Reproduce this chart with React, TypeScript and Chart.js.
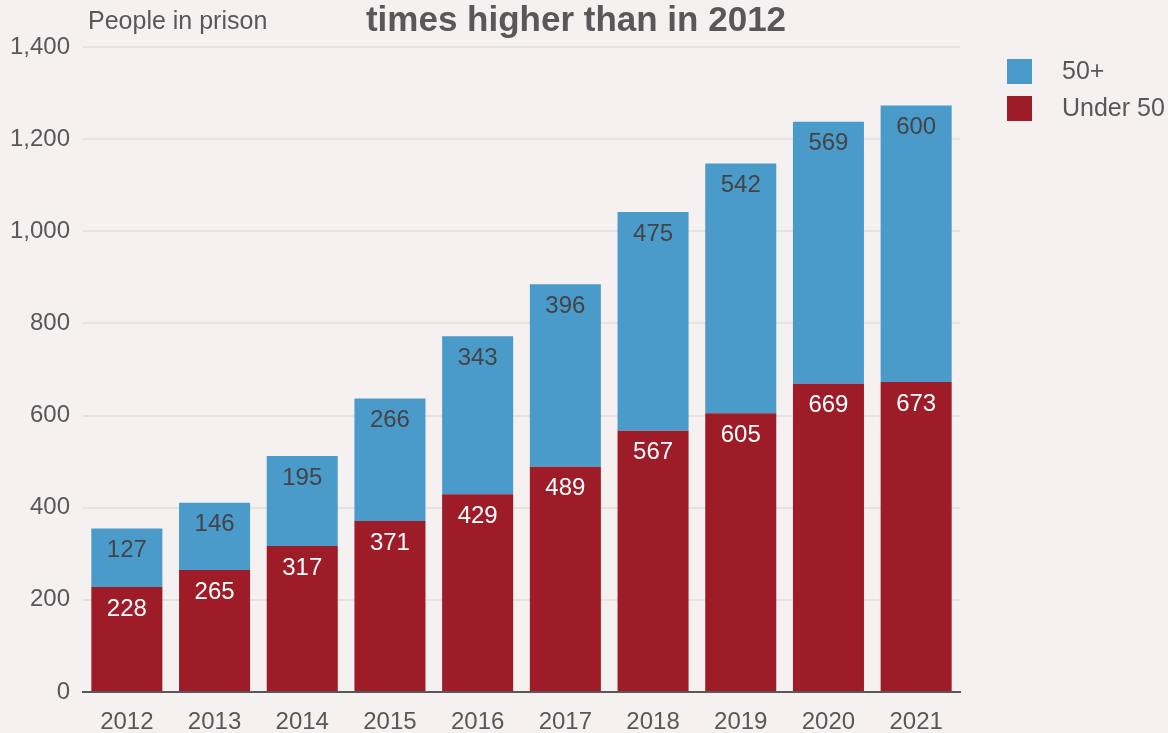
import React, { useEffect, useRef } from "react";
import { Chart, registerables } from "chart.js";

Chart.register(...registerables);

const years = ["2012", "2013", "2014", "2015", "2016", "2017", "2018", "2019", "2020", "2021"];
const under50 = [228, 265, 317, 371, 429, 489, 567, 605, 669, 673];
const over50 = [127, 146, 195, 266, 343, 396, 475, 542, 569, 600];
const yTicks = [0, 200, 400, 600, 800, 1000, 1200, 1400];

const BG = "#f5f1f0";
const BLUE = "#4a9bca";
const RED = "#9e1b28";
const GREY = "#58585b";
const FONT = "'Liberation Sans', Arial, Helvetica, sans-serif";

export default function App() {
  const ref = useRef<HTMLCanvasElement | null>(null);

  useEffect(() => {
    document.body.style.margin = "0";
    document.body.style.background = BG;
    const canvas = ref.current;
    if (!canvas) return;

    const bgPlugin = {
      id: "bg",
      beforeDraw(chart: any) {
        const c = chart.ctx;
        c.save();
        c.fillStyle = BG;
        c.fillRect(0, 0, chart.width, chart.height);
        c.restore();
      },
    };

    const extras = {
      id: "extras",
      afterDatasetsDraw(chart: any) {
        const c = chart.ctx;
        c.save();
        c.textAlign = "center";
        c.textBaseline = "middle";
        c.font = `24px ${FONT}`;
        chart.data.datasets.forEach((ds: any, di: number) => {
          const meta = chart.getDatasetMeta(di);
          meta.data.forEach((bar: any, i: number) => {
            c.fillStyle = di === 0 ? "#ffffff" : "#444446";
            c.fillText(String(ds.data[i]), bar.x, bar.y + 22);
          });
        });
        // title
        c.fillStyle = GREY;
        c.font = `bold 35px ${FONT}`;
        c.textAlign = "center";
        c.textBaseline = "alphabetic";
        c.fillText("times higher than in 2012", 576, 31);
        // axis title
        c.font = `25px ${FONT}`;
        c.textAlign = "left";
        c.fillText("People in prison", 88, 29);
        // legend
        const items = [
          { label: "50+", color: BLUE, y: 59 },
          { label: "Under 50", color: RED, y: 96 },
        ];
        items.forEach((it) => {
          c.fillStyle = it.color;
          c.fillRect(1007, it.y, 25, 25);
          c.fillStyle = GREY;
          c.font = `25px ${FONT}`;
          c.textBaseline = "middle";
          c.fillText(it.label, 1062, it.y + 13);
        });
        c.restore();
      },
    };

    const chart = new Chart(canvas, {
      type: "bar",
      data: {
        labels: years,
        datasets: [
          { label: "Under 50", data: under50, backgroundColor: RED, barPercentage: 0.81, categoryPercentage: 1 },
          { label: "50+", data: over50, backgroundColor: BLUE, barPercentage: 0.81, categoryPercentage: 1 },
        ],
      },
      options: {
        animation: false,
        responsive: false,
        maintainAspectRatio: false,
        layout: { padding: { top: 47, right: 208, left: 0, bottom: 0 } },
        plugins: {
          legend: { display: false },
          tooltip: { enabled: false },
          title: { display: false },
        },
        scales: {
          x: {
            stacked: true,
            grid: { display: false },
            border: { display: true, color: "#58585b", width: 2 },
            ticks: { color: GREY, font: { family: FONT, size: 24 }, padding: 8 },
            afterFit(scale: any) {
              scale.height = 41;
            },
          },
          y: {
            stacked: true,
            min: 0,
            max: 1400,
            afterBuildTicks(scale: any) {
              scale.ticks = yTicks.map((v) => ({ value: v }));
            },
            grid: { color: "#e6e2e1", lineWidth: 2, drawTicks: false },
            border: { display: false },
            ticks: {
              color: GREY,
              font: { family: FONT, size: 24 },
              padding: 13,
              callback: (v: any) => Number(v).toLocaleString("en-US"),
            },
            afterFit(scale: any) {
              scale.width = 83;
            },
          },
        },
      },
      plugins: [bgPlugin, extras],
    });
    return () => chart.destroy();
  }, []);

  return <canvas ref={ref} width={1168} height={733} style={{ display: "block" }} />;
}
